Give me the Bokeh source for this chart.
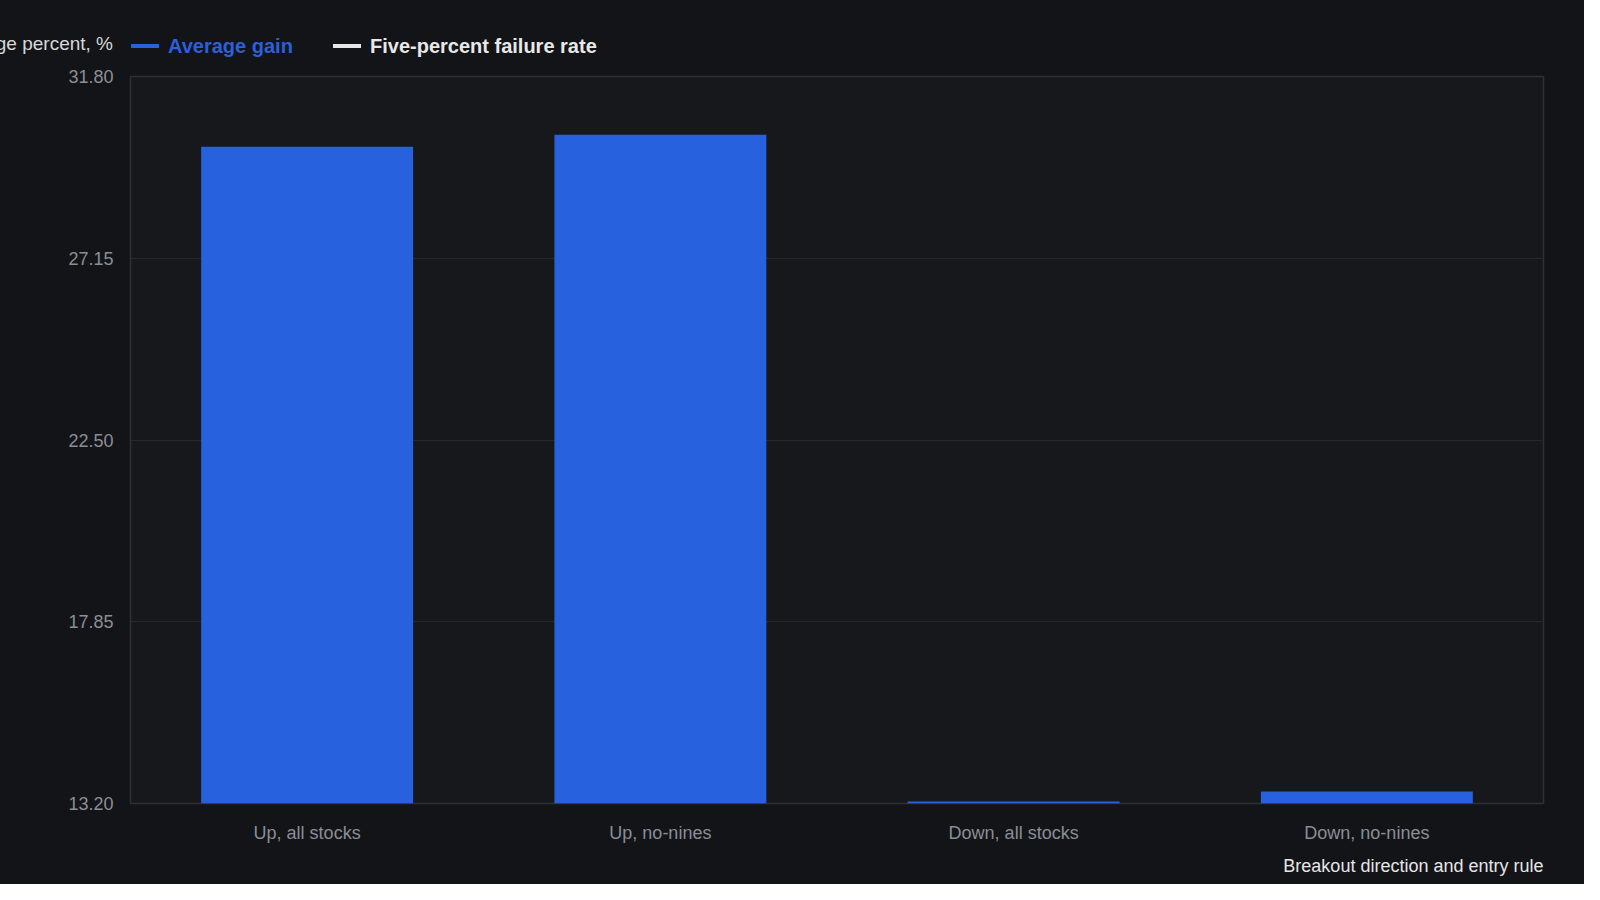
from bokeh.plotting import figure
from bokeh.layouts import column
from bokeh.models import (ColumnDataSource, Div, FixedTicker, NumeralTickFormatter,
                          Range1d, Title)
from bokeh.embed import file_html
from bokeh.resources import INLINE

# data
categories = ["Up, all stocks", "Up, no-nines", "Down, all stocks", "Down, no-nines"]
average_gain = [30.00, 30.31, 13.25, 13.51]
failure_rate = [float("nan")] * 4  # named in the legend, no visible values
y_ticks = [13.20, 17.85, 22.50, 27.15, 31.80]

BG = "#121418"
PLOT_BG = "#16181c"
BLUE = "#2861dd"
WHITE = "#e8e8e8"
FONT = "Liberation Sans"
W = 1584
HEAD_H = 60

# header: y title (cut at the page edge) and the legend, as one html strip
header = Div(width=W, height=HEAD_H, margin=0,
             styles={"background-color": BG, "overflow": "hidden"},
             text=f"""
<div style="position:relative;width:{W}px;height:{HEAD_H}px;font-family:'{FONT}';white-space:nowrap">
  <span style="position:absolute;right:{W - 113}px;top:32px;line-height:23px;font-size:19px;color:#d8d8d8">Average percent, %</span>
  <span style="position:absolute;left:131px;top:44px;width:28px;height:4px;background:{BLUE}"></span>
  <span style="position:absolute;left:168px;top:34px;line-height:24px;font-size:20px;font-weight:bold;color:#2b60da">Average gain</span>
  <span style="position:absolute;left:333px;top:44px;width:28px;height:4px;background:{WHITE}"></span>
  <span style="position:absolute;left:370px;top:34px;line-height:24px;font-size:20px;font-weight:bold;color:{WHITE}">Five-percent failure rate</span>
</div>""")

src = ColumnDataSource(dict(cat=categories, gain=average_gain, fail=failure_rate))

p = figure(x_range=categories, y_range=Range1d(13.2, 31.8),
           width=W, height=884 - HEAD_H, output_backend="svg", toolbar_location=None,
           min_border_left=130, min_border_right=41, min_border_top=16,
           min_border_bottom=81)
p.background_fill_color = PLOT_BG
p.border_fill_color = BG
p.outline_line_color = "#2e3034"
p.outline_line_width = 1.5

p.vbar(x="cat", top="gain", bottom=13.2, width=0.6, source=src,
       fill_color=BLUE, line_color=None)
p.line(x="cat", y="fail", source=src, line_color=WHITE, line_width=4)

p.yaxis.ticker = FixedTicker(ticks=y_ticks)
p.yaxis.formatter = NumeralTickFormatter(format="0.00")
p.ygrid.ticker = FixedTicker(ticks=y_ticks)
p.ygrid.grid_line_color = "#26282c"
p.xgrid.grid_line_color = None

for ax in (p.xaxis[0], p.yaxis[0]):
    ax.axis_line_color = None
    ax.major_tick_line_color = None
    ax.minor_tick_line_color = None
    ax.major_label_text_color = "#8b8e94"
    ax.major_label_text_font = FONT
    ax.major_label_text_font_size = "18px"
p.yaxis.major_label_standoff = 11
p.xaxis.major_label_standoff = 13

p.add_layout(Title(text="Breakout direction and entry rule", align="right",
                   text_font=FONT, text_font_size="18px", text_font_style="normal",
                   text_color="#e6e6e6", standoff=16), "below")

layout = column(header, p, spacing=0, styles={"background-color": BG})
open("out.html", "w").write(file_html(layout, INLINE))
